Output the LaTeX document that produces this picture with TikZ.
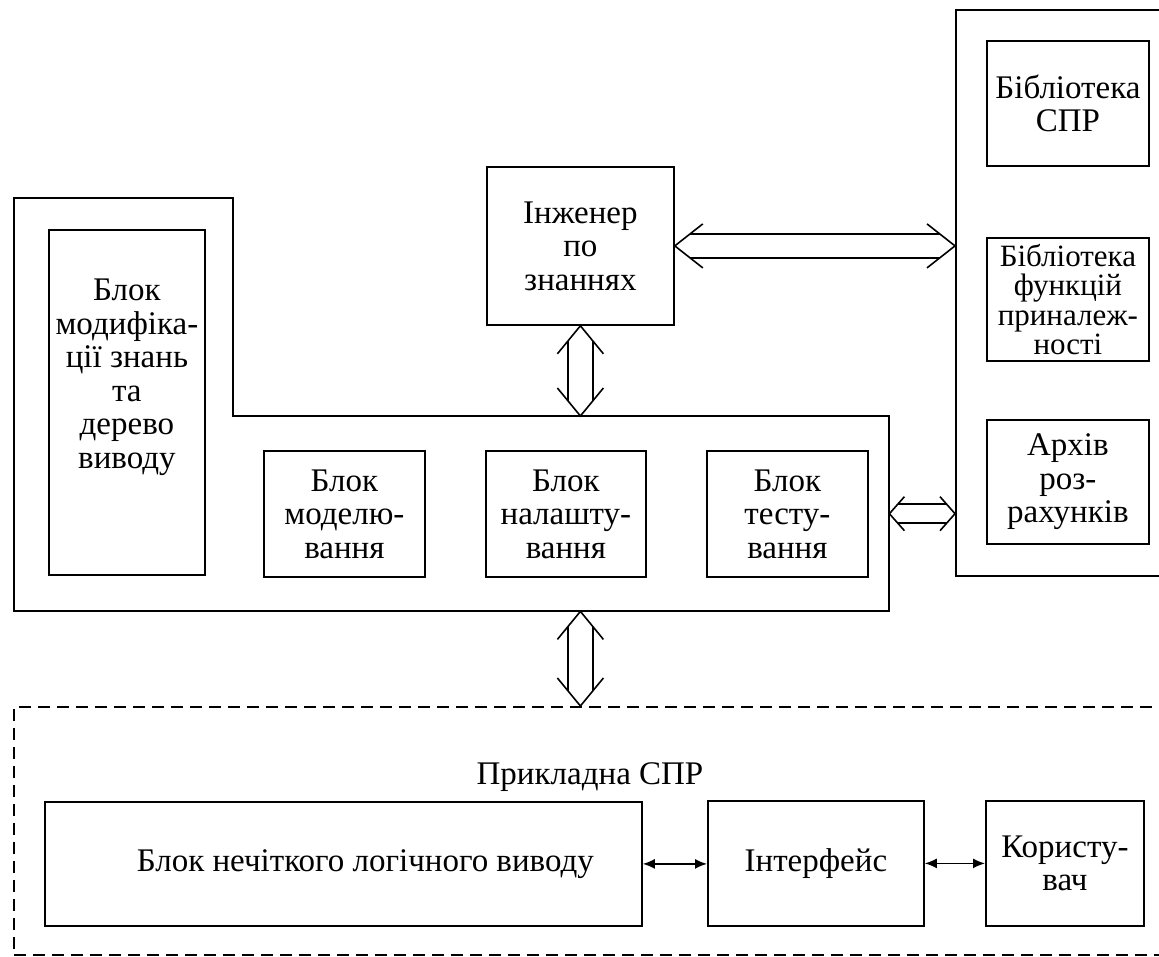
\documentclass[tikz,border=0pt]{standalone}
\usepackage{fontspec}
\setmainfont{Liberation Serif}
\usetikzlibrary{calc,arrows.meta}
\newcommand\hollowH[5]{%
  \draw[conn] ($(#1)+(#5,-#4)$) -- (#1) -- ($(#1)+(#5,#4)$);
  \draw[conn] ($(#2)+(-#5,-#4)$) -- (#2) -- ($(#2)+(-#5,#4)$);
  \draw[conn] ($(#1)+({#5*#3/#4},-#3)$) -- ($(#2)+({-#5*#3/#4},-#3)$);
  \draw[conn] ($(#1)+({#5*#3/#4},#3)$) -- ($(#2)+({-#5*#3/#4},#3)$);
}
\newcommand\hollowV[5]{%
  \draw[conn] ($(#1)+(-#4,#5)$) -- (#1) -- ($(#1)+(#4,#5)$);
  \draw[conn] ($(#2)+(-#4,-#5)$) -- (#2) -- ($(#2)+(#4,-#5)$);
  \draw[conn] ($(#1)+(-#3,{#5*#3/#4})$) -- ($(#2)+(-#3,{-#5*#3/#4})$);
  \draw[conn] ($(#1)+(#3,{#5*#3/#4})$) -- ($(#2)+(#3,{-#5*#3/#4})$);
}
\begin{document}
\begin{tikzpicture}[x=1pt,y=-1pt,
  box/.style={draw, line width=1.8pt, align=center, anchor=north west, inner sep=0pt},
  conn/.style={line width=1.6pt},
  small/.style={line width=1.5pt, {Latex[length=12pt,width=10pt]}-{Latex[length=12pt,width=10pt]}},
  font=\fontsize{33}{33.5}\selectfont]
\useasboundingbox (0,0) rectangle (1159,957);
\clip (0,0) rectangle (1159,957);
% right panel
\node[box, minimum width=230pt, minimum height=566pt] (panel) at (955,9) {};
\node[box, minimum width=162pt, minimum height=125pt] (lib1) at (986,40) {Бібліотека\\СПР};
\node[box, minimum width=162pt, minimum height=123pt, font=\fontsize{31}{29.5}\selectfont] (lib2) at (986,237) {Бібліотека\\функцій\\приналеж-\\ності};
\node[box, minimum width=162pt, minimum height=124pt] (lib3) at (986,419) {Архів\\роз-\\рахунків};
% engineer
\node[box, minimum width=187pt, minimum height=158pt] (eng) at (486,166) {Інженер\\по\\знаннях};
% L block
\node[anchor=north west, inner sep=0pt, minimum width=875pt, minimum height=195pt] (blk) at (14,416) {};
\draw[line width=1.8pt] (14,198) -- (233,198) -- (233,416) -- (889,416) -- (889,611) -- (14,611) -- cycle;
\node[box, minimum width=156pt, minimum height=345pt] (left) at (48,229) {Блок\\модифіка-\\ції знань\\та\\дерево\\виводу\\[24pt]};
\node[box, minimum width=161pt, minimum height=126pt] (mod) at (263,450) {Блок\\моделю-\\вання};
\node[box, minimum width=160pt, minimum height=126pt] (nal) at (485,450) {Блок\\налашту-\\вання};
\node[box, minimum width=161pt, minimum height=126pt] (tst) at (706,450) {Блок\\тесту-\\вання};
% application
\node[box, dash pattern=on 12pt off 7pt, minimum width=1167pt, minimum height=248pt] (app) at (13,706) {};
\node (apptitle) at (590,777) {Прикладна СПР};
\node[box, minimum width=597pt, minimum height=124pt] (fuzzy) at (44,801) {\hspace*{44pt}Блок нечіткого логічного виводу};
\node[box, minimum width=216pt, minimum height=125pt] (intf) at (707,800) {Інтерфейс};
\node[box, minimum width=158pt, minimum height=125pt] (user) at (985,800) {Користу-\\вач};
% connectors
\hollowH{eng.east}{panel.west |- eng.east}{12}{22}{28}
\hollowV{eng.south}{eng.south |- blk.north}{12.5}{23}{28}
\hollowH{blk.east}{panel.west |- blk.east}{9.5}{17}{15}
\hollowV{eng.south |- blk.south}{eng.south |- app.north}{12.5}{23}{28}
\draw[small] (fuzzy.east) -- (fuzzy.east -| intf.west);
\draw[small] (intf.east) -- (intf.east -| user.west);
\end{tikzpicture}
\end{document}
